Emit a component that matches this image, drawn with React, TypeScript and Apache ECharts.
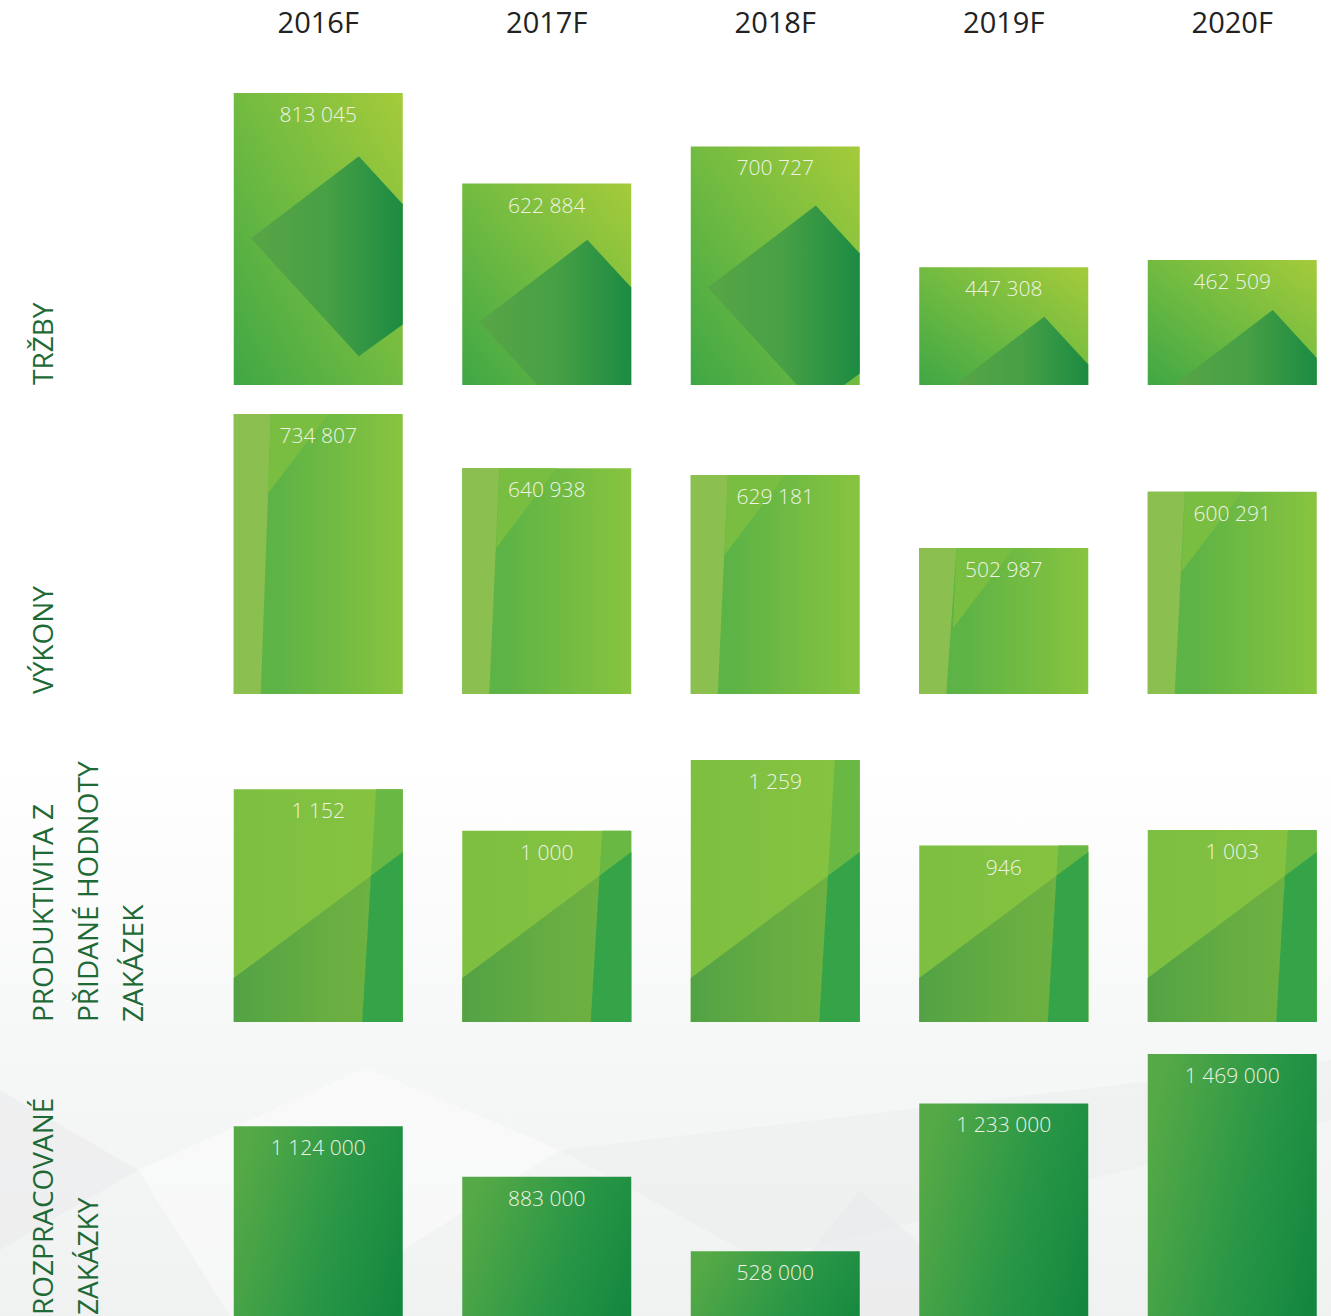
import React, { useEffect, useRef } from "react";
import * as echarts from "echarts";

// ---------- data ----------
const years = ["2016F", "2017F", "2018F", "2019F", "2020F"];
const trzby = [813045, 622884, 700727, 447308, 462509];
const vykony = [734807, 640938, 629181, 502987, 600291];
const produktivita = [1152, 1000, 1259, 946, 1003];
const zakazky = [1124000, 883000, 528000, 1233000, 1469000];
const rowLabels = [
  ["TRŽBY"],
  ["VÝKONY"],
  ["PRODUKTIVITA Z", "PŘIDANÉ HODNOTY", "ZAKÁZEK"],
  ["ROZPRACOVANÉ", "ZAKÁZKY"],
];

// ---------- layout ----------
const BAR_W = 169;
const GRID_LEFT = 204;
const GRID_W = 1142.5;
const ROWS = [
  { values: trzby, min: 200000, max: 850000, anchorTop: 93, baseline: 385, labelY: 385 },
  { values: vykony, min: 250000, max: 800000, anchorTop: 414, baseline: 694, labelY: 694 },
  { values: produktivita, min: 300, max: 1300, anchorTop: 760, baseline: 1022, labelY: 1022 },
  { values: zakazky, min: 0, max: 1500000, anchorTop: 1054, baseline: 1362, labelY: 1315 },
];

type P = [number, number];

const fmt = (n: number) => String(n).replace(/\B(?=(\d{3})+(?!\d))/g, " ");

function lin(x: number, y: number, x2: number, y2: number, stops: [number, string][]) {
  return new echarts.graphic.LinearGradient(
    x, y, x2, y2,
    stops.map(([offset, color]) => ({ offset, color }))
  );
}

function intersect(p1: P, p2: P, a: P, b: P): P {
  const [x1, y1] = p1, [x2, y2] = p2, [x3, y3] = a, [x4, y4] = b;
  const d = (x1 - x2) * (y3 - y4) - (y1 - y2) * (x3 - x4);
  const t = ((x1 - x3) * (y3 - y4) - (y1 - y3) * (x3 - x4)) / d;
  return [x1 + t * (x2 - x1), y1 + t * (y2 - y1)];
}

function clipConvex(subject: P[], clip: P[]): P[] {
  let area = 0;
  for (let i = 0; i < clip.length; i++) {
    const a = clip[i], b = clip[(i + 1) % clip.length];
    area += a[0] * b[1] - b[0] * a[1];
  }
  const sign = area >= 0 ? 1 : -1;
  let out = subject;
  for (let i = 0; i < clip.length; i++) {
    const a = clip[i], b = clip[(i + 1) % clip.length];
    const inside = (p: P) => ((b[0] - a[0]) * (p[1] - a[1]) - (b[1] - a[1]) * (p[0] - a[0])) * sign >= 0;
    const input = out;
    out = [];
    if (!input.length) break;
    for (let j = 0; j < input.length; j++) {
      const cur = input[j], prev = input[(j + input.length - 1) % input.length];
      const ci = inside(cur), pi = inside(prev);
      if (ci) {
        if (!pi) out.push(intersect(prev, cur, a, b));
        out.push(cur);
      } else if (pi) out.push(intersect(prev, cur, a, b));
    }
  }
  return out;
}

const baseColors = [
  lin(0, 1, 1, 0, [[0, "#3fa745"], [0.5, "#72bb41"], [1, "#a5cb3a"]]),
  lin(0, 0, 1, 0, [[0, "#5cb346"], [0.25, "#5db346"], [1, "#88c43f"]]),
  lin(0, 0, 1, 0, [[0, "#7dbf41"], [1, "#87c340"]]),
  lin(0, 0.3, 1, 0.7, [[0, "#55a946"], [0.55, "#2a9746"], [1, "#14873f"]]),
];

function overlays(r: number, x0: number, yT: number, w: number, yB: number) {
  const h = yB - yT;
  const shapes: { pts: P[]; fill: any }[] = [];
  if (r === 0) {
    const ax = x0 + 0.74 * w;
    const ay = yT + 40 + 0.08 * h;
    shapes.push({
      pts: [[ax, ay], [ax + 110, ay + 120], [ax, ay + 200], [ax - 108, ay + 82]],
      fill: lin(0, 0, 1, 0, [[0, "#58a546"], [0.5, "#47a045"], [1, "#1c8b42"]]),
    });
  } else if (r === 1) {
    shapes.push({
      pts: [[x0, yT], [x0 + 0.22 * w, yT], [x0 + 0.16 * w, yB], [x0, yB]],
      fill: "#8bbf4f",
    });
    shapes.push({
      pts: [[x0 + 0.22 * w, yT], [x0 + 0.56 * w, yT], [x0 + 0.2 * w, yT + 80]],
      fill: "#79be41",
    });
  } else if (r === 2) {
    const lower: P[] = [[x0, yB - 44], [x0 + w, yB - 170], [x0 + w, yB], [x0, yB]];
    shapes.push({ pts: lower, fill: lin(0, 0, 1, 0, [[0, "#52a245"], [0.5, "#66ad42"], [1, "#74b341"]]) });
    const bx = x0 + 0.76 * w;
    const strip: P[] = [[bx + 0.06 * h, yT], [x0 + w, yT], [x0 + w, yB], [bx, yB]];
    shapes.push({ pts: strip, fill: "#69b844" });
    shapes.push({ pts: clipConvex(strip, lower), fill: "#35a448" });
  }
  return shapes;
}

function buildOption() {
  const grid: any[] = [];
  const xAxis: any[] = [];
  const yAxis: any[] = [];
  const series: any[] = [];
  ROWS.forEach((row, r) => {
    const dmax = Math.max(...row.values);
    const s = (row.baseline - row.anchorTop) / (dmax - row.min);
    const height = (row.max - row.min) * s;
    grid.push({
      left: GRID_LEFT,
      width: GRID_W,
      top: row.baseline - height,
      height,
      outerBoundsMode: "none",
      containLabel: false,
    });
    xAxis.push({
      type: "category",
      gridIndex: r,
      data: years,
      position: "top",
      axisLine: { show: false },
      axisTick: { show: false },
      axisLabel: r === 0
        ? { show: true, fontSize: 29, color: "#222222", fontFamily: "Open Sans", fontWeight: 400, margin: 39 }
        : { show: false },
      splitLine: { show: false },
    });
    yAxis.push({ type: "value", gridIndex: r, min: row.min, max: row.max, show: false, splitLine: { show: false } });
    series.push({
      type: "bar",
      xAxisIndex: r,
      yAxisIndex: r,
      data: row.values,
      barWidth: BAR_W,
      z: 2,
      itemStyle: { color: baseColors[r] },
      silent: true,
    });
    series.push({
      type: "custom",
      xAxisIndex: r,
      yAxisIndex: r,
      z: 3,
      silent: true,
      clip: false,
      encode: { x: 0, y: 1 },
      data: row.values.map((v, i) => [i, v]),
      renderItem: (params: any, api: any) => {
        const idx = api.value(0);
        const val = api.value(1);
        const top = api.coord([idx, val]);
        const base = api.coord([idx, row.min]);
        const x0 = top[0] - BAR_W / 2;
        const yT = top[1];
        const yB = base[1];
        const rect: P[] = [[x0, yT], [x0 + BAR_W, yT], [x0 + BAR_W, yB], [x0, yB]];
        const children: any[] = [];
        overlays(r, x0, yT, BAR_W, yB).forEach((sh) => {
          const pts = clipConvex(sh.pts, rect);
          if (pts.length >= 3) {
            children.push({ type: "polygon", shape: { points: pts }, style: { fill: sh.fill } });
          }
        });
        children.push({
          type: "text",
          x: top[0],
          y: yT + 21,
          style: {
            text: fmt(val),
            fill: "#eef3e6",
            fontSize: 21,
            fontFamily: "Open Sans",
            fontWeight: 300,
            align: "center",
            verticalAlign: "middle",
          },
        });
        return { type: "group", children };
      },
    });
  });

  const graphics: any[] = [
    {
      type: "rect",
      z: -10,
      silent: true,
      shape: { x: 0, y: 0, width: 1331, height: 1316 },
      style: {
        fill: lin(0, 0, 0, 1, [[0, "#ffffff"], [0.58, "#ffffff"], [0.8, "#f6f7f7"], [1, "#f0f1f1"]]),
      },
    },
    { type: "polygon", z: -9, silent: true, shape: { points: [[0, 1090], [138, 1170], [0, 1250]] }, style: { fill: "#e9eaeb", opacity: 0.5 } },
    { type: "polygon", z: -9, silent: true, shape: { points: [[138, 1170], [366, 1068], [560, 1150], [300, 1316], [230, 1316]] }, style: { fill: "#fbfbfc", opacity: 0.6 } },
    { type: "polygon", z: -9, silent: true, shape: { points: [[560, 1150], [1331, 1060], [1331, 1120], [760, 1260]] }, style: { fill: "#e9eaeb", opacity: 0.35 } },
    { type: "polygon", z: -9, silent: true, shape: { points: [[860, 1190], [1000, 1316], [760, 1316]] }, style: { fill: "#e6e7e8", opacity: 0.4 } },
  ];
  rowLabels.forEach((lines, r) => {
    lines.forEach((t, k) => {
      graphics.push({
        type: "text",
        z: 10,
        silent: true,
        x: 42 + 45 * k,
        y: ROWS[r].labelY,
        rotation: Math.PI / 2,
        style: {
          text: t,
          fill: "#1e6a36",
          fontSize: 28,
          fontFamily: "Open Sans",
          align: "left",
          verticalAlign: "middle",
        },
      });
    });
  });

  return {
    animation: false,
    backgroundColor: "#ffffff",
    graphic: graphics,
    grid,
    xAxis,
    yAxis,
    series,
  };
}

export default function App() {
  const ref = useRef<HTMLDivElement>(null);
  useEffect(() => {
    document.body.style.margin = "0";
    const chart = echarts.init(ref.current!, undefined, { renderer: "svg" });
    chart.setOption(buildOption() as any);
    return () => chart.dispose();
  }, []);
  return <div ref={ref} style={{ width: 1331, height: 1316 }} />;
}
